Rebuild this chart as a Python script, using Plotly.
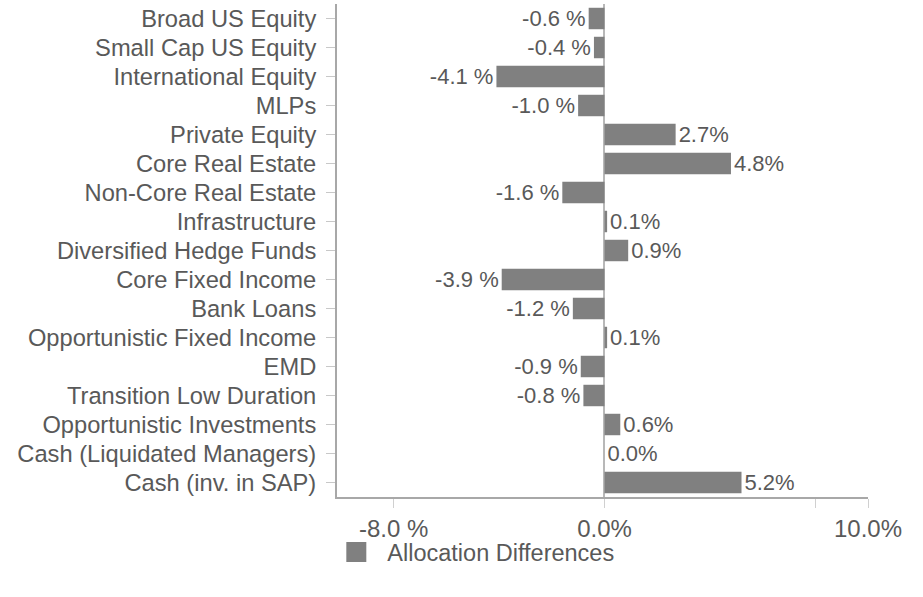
import plotly.graph_objects as go

categories = [
    "Broad US Equity", "Small Cap US Equity", "International Equity", "MLPs",
    "Private Equity", "Core Real Estate", "Non-Core Real Estate", "Infrastructure",
    "Diversified Hedge Funds", "Core Fixed Income", "Bank Loans",
    "Opportunistic Fixed Income", "EMD", "Transition Low Duration",
    "Opportunistic Investments", "Cash (Liquidated Managers)", "Cash (inv. in SAP)",
]
differences = [-0.6, -0.4, -4.1, -1.0, 2.7, 4.8, -1.6, 0.1, 0.9, -3.9, -1.2,
               0.1, -0.9, -0.8, 0.6, 0.0, 5.2]
x_tick_vals = [-8, 0, 8, 10]
x_tick_text = ["-8.0 %", "0.0%", "", "10.0%"]
series_name = "Allocation Differences"

labels = [f"{v:.1f} %" if v < 0 else f"{v:.1f}%" for v in differences]

FONT = "Liberation Sans, Arial, sans-serif"
TEXT = "#595959"
LINE = "#a8a8a8"
BAR = "#808080"

fig = go.Figure()
fig.add_trace(go.Bar(
    y=categories, x=differences, orientation="h",
    name=series_name, showlegend=False,
    marker=dict(color=BAR, line=dict(width=0)),
    text=labels, textposition="outside", cliponaxis=False, constraintext="none",
    textfont=dict(family=FONT, size=22, color=TEXT),
))
# legend entry with a larger square swatch
fig.add_trace(go.Scatter(
    x=[None], y=[None], mode="markers", name=series_name,
    marker=dict(symbol="square", size=16, color=BAR, line=dict(width=4, color=BAR)),
))

fig.update_layout(
    width=923, height=597,
    margin=dict(l=337, r=55, t=4, b=100),
    paper_bgcolor="white", plot_bgcolor="white",
    bargap=0.26,
    font=dict(family=FONT, size=23.7, color=TEXT),
    showlegend=True,
    legend=dict(orientation="h", x=-0.022, xanchor="left", y=-0.112, yanchor="middle",
                bgcolor="rgba(0,0,0,0)",
                font=dict(family=FONT, size=23.5, color=TEXT), itemwidth=52,
                itemsizing="trace"),
    xaxis=dict(range=[-10.15, 10], tickvals=x_tick_vals, ticktext=x_tick_text,
               showgrid=False, zeroline=True, zerolinecolor="#b8b8b8", zerolinewidth=2,
               showline=True, linecolor=LINE, linewidth=2,
               ticks="outside", ticklen=9, tickcolor="#d0d0d0", tickwidth=1,
               tickfont=dict(family=FONT, size=24, color=TEXT)),
    yaxis=dict(categoryorder="array", categoryarray=categories, autorange="reversed",
               showgrid=False, showline=True, linecolor=LINE, linewidth=2,
               ticks="outside", ticklen=9, tickcolor="#c8c8c8",
               ticklabelstandoff=5,
               tickfont=dict(family=FONT, size=23.7, color=TEXT)),
)

fig.write_html("out.html")
